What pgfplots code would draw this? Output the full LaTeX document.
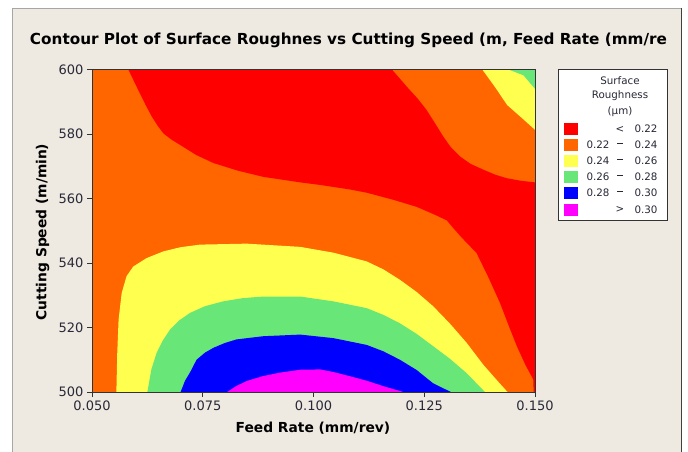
\documentclass[border=0pt]{standalone}
\usepackage{fontspec}
\setmainfont{DejaVu Sans}
\usepackage{graphicx}
\usepackage{pgfplots}
\pgfplotsset{compat=1.18}
\definecolor{cRed}{RGB}{255,0,0}
\definecolor{cOrange}{RGB}{255,102,0}
\definecolor{cYellow}{RGB}{255,255,80}
\definecolor{cGreen}{RGB}{104,230,120}
\definecolor{cBlue}{RGB}{0,0,255}
\definecolor{cMagenta}{RGB}{255,0,255}
\definecolor{bg}{RGB}{238,234,225}
\definecolor{tickc}{RGB}{40,40,55}
\begin{document}
\begin{tikzpicture}
\useasboundingbox (0pt,0pt) rectangle (688pt,452pt);
\fill[white] (0pt,0pt) rectangle (688pt,452pt);
\fill[bg] (12pt,0pt) rectangle (682pt,444pt);
\draw[black!35, line width=1pt] (12.5pt,0pt) -- (12.5pt,443.5pt) -- (682pt,443.5pt);
\draw[black!75, line width=1.5pt] (681.5pt,444pt) -- (681.5pt,0pt);
\begin{axis}[at={(92pt,60pt)}, anchor=south west, scale only axis,
  width=443pt, height=322.5pt,
  xmin=0.05, xmax=0.15, ymin=500, ymax=600,
  xtick={0.05,0.075,0.1,0.125,0.15},
  xticklabels={0.050,0.075,0.100,0.125,0.150},
  ytick={500,520,540,560,580,600},
  yticklabels={500,520,540,560,580,600},
  tick pos=left, tick align=outside, major tick length=5pt,
  tick style={black!80, line width=0.8pt},
  axis line style={black!80, line width=0.8pt},
  axis on top,
  ticklabel style={font=\fontsize{13}{13}\selectfont, text=tickc},
]
% background level 0.22 - 0.24
\addplot[draw=none, fill=cOrange] coordinates {(0.04,490) (0.16,490) (0.16,610) (0.04,610)} -- cycle;
% < 0.22
\addplot[draw=none, fill=cRed] coordinates {
 (0.0545,610) (0.0582,600) (0.0596,596) (0.0608,592.6) (0.0621,589) (0.0635,585.4) (0.0648,582.6)
 (0.0661,580.2) (0.0680,578.2) (0.0699,576.6) (0.0735,573.5) (0.0774,571) (0.0830,568.6)
 (0.0887,566.7) (0.0970,565) (0.1015,564.2) (0.1082,562.8) (0.1120,561.8) (0.1180,559.6)
 (0.1233,557.4) (0.1275,554.9) (0.1301,553.2) (0.1315,550.9) (0.1335,547.8) (0.1368,543.1)
 (0.1395,535.5) (0.1421,527.6) (0.1440,520.8) (0.1459,514.2) (0.1478,508.5) (0.1496,503.9)
 (0.1497,500) (0.1497,490)
 (0.16,490) (0.16,565) (0.150,565) (0.1468,565.5) (0.1436,566.3) (0.1410,567.4)
 (0.1384,568.9) (0.1355,570.7) (0.1331,573) (0.1310,575.9) (0.1293,579.2) (0.1274,583.4)
 (0.1255,587.5) (0.1235,591) (0.1215,594) (0.1177,600) (0.1115,610)} -- cycle;
% upper right 0.24 - 0.26
\addplot[draw=none, fill=cYellow] coordinates {
 (0.1381,610) (0.1381,600) (0.1410,594.5) (0.1437,589) (0.1470,585) (0.150,581.3)
 (0.16,581.3) (0.16,610)} -- cycle;
% upper right 0.26 - 0.28
\addplot[draw=none, fill=cGreen] coordinates {
 (0.1440,610) (0.1440,600) (0.1474,598.2) (0.150,594) (0.16,594) (0.16,610)} -- cycle;
% lower dome 0.24 - 0.26
\addplot[draw=none, fill=cYellow] coordinates {
 (0.0555,490) (0.0555,500) (0.0557,512.1) (0.0560,522.4) (0.0567,530.7) (0.0578,535.9)
 (0.0593,538.9) (0.0623,541.5) (0.0661,543.6) (0.0700,544.9) (0.0744,545.7) (0.0849,546.0)
 (0.0970,545.0) (0.1045,543.2) (0.1120,540.5) (0.1158,538.0) (0.1195,534.8) (0.1233,531.0)
 (0.1270,526.6) (0.1308,521.2) (0.1346,515.2) (0.1383,508.5) (0.1415,503.5) (0.1438,500)
 (0.1438,490)} -- cycle;
% lower dome 0.26 - 0.28
\addplot[draw=none, fill=cGreen] coordinates {
 (0.0625,490) (0.0625,500) (0.0634,507) (0.0646,512.2) (0.0660,516) (0.0676,519.3)
 (0.0697,522.2) (0.0721,524.5) (0.0755,526.6) (0.0796,528.1) (0.0840,529.1) (0.0887,529.6)
 (0.0970,529.6) (0.1045,528.1) (0.1120,526.0) (0.1158,523.9) (0.1195,521.3) (0.1233,518.0)
 (0.1270,514.2) (0.1308,510.3) (0.1346,505.8) (0.1387,500) (0.1387,490)} -- cycle;
% lower dome 0.28 - 0.30
\addplot[draw=none, fill=cBlue] coordinates {
 (0.0700,490) (0.0700,500) (0.0710,503.5) (0.0721,506) (0.0736,510) (0.0755,512.2)
 (0.0774,513.7) (0.0800,515.2) (0.0826,516.3) (0.0887,517.3) (0.0970,517.8) (0.1045,516.7)
 (0.1120,514.6) (0.1158,512.6) (0.1195,510) (0.1233,506.8) (0.1270,502.7) (0.1310,500)
 (0.1310,490)} -- cycle;
% > 0.30
\addplot[draw=none, fill=cMagenta] coordinates {
 (0.0805,490) (0.0805,500) (0.0825,501.8) (0.0849,503.4) (0.0885,504.9) (0.0924,506)
 (0.0970,506.9) (0.1015,507) (0.1045,506.2) (0.1082,504.9) (0.1120,503.5) (0.1158,501.8)
 (0.1203,500) (0.1203,490)} -- cycle;
\end{axis}
% title and axis labels
\node at (348.5pt,412pt) {\resizebox{637pt}{\height}{\fontsize{15.2}{15.2}\selectfont\bfseries Contour Plot of Surface Roughnes vs Cutting Speed (m, Feed Rate (mm/re}};
\node at (313pt,24pt) {\fontsize{13.8}{13.8}\selectfont\bfseries Feed Rate (mm/rev)};
\node[rotate=90] at (42.5pt,220pt) {\fontsize{13.8}{13.8}\selectfont\bfseries Cutting Speed (m/min)};
% legend
\draw[fill=white, draw=black!80, line width=0.8pt] (558.3pt,231.3pt) rectangle (667.7pt,382.7pt);
\begin{scope}[every node/.style={font=\fontsize{10.3}{10.3}\selectfont, text=tickc, inner sep=0pt}]
\node at (620pt,371.3pt) {Surface};
\node at (620pt,356pt) {Roughness};
\node at (620pt,340.3pt) {(µm)};
\fill[cRed]     (564pt,316.95pt) rectangle (578.3pt,328.65pt);
\fill[cOrange]  (564pt,301.15pt) rectangle (578.3pt,312.85pt);
\fill[cYellow]  (564pt,284.95pt) rectangle (578.3pt,296.65pt);
\fill[cGreen]   (564pt,268.95pt) rectangle (578.3pt,280.65pt);
\fill[cBlue]    (564pt,253.35pt) rectangle (578.3pt,265.05pt);
\fill[cMagenta] (564pt,236.45pt) rectangle (578.3pt,248.15pt);
\newcommand{\dsh}{\rule[3.2pt]{5.5pt}{0.9pt}}
\node at (620pt,322.8pt) {<};   \node at (646pt,322.8pt) {0.22};
\node at (598pt,307pt) {0.22}; \node at (620pt,307pt) {\dsh}; \node at (646pt,307pt) {0.24};
\node at (598pt,290.8pt) {0.24}; \node at (620pt,290.8pt) {\dsh}; \node at (646pt,290.8pt) {0.26};
\node at (598pt,274.8pt) {0.26}; \node at (620pt,274.8pt) {\dsh}; \node at (646pt,274.8pt) {0.28};
\node at (598pt,259.2pt) {0.28}; \node at (620pt,259.2pt) {\dsh}; \node at (646pt,259.2pt) {0.30};
\node at (620pt,242.3pt) {>};   \node at (646pt,242.3pt) {0.30};
\end{scope}
\end{tikzpicture}
\end{document}
